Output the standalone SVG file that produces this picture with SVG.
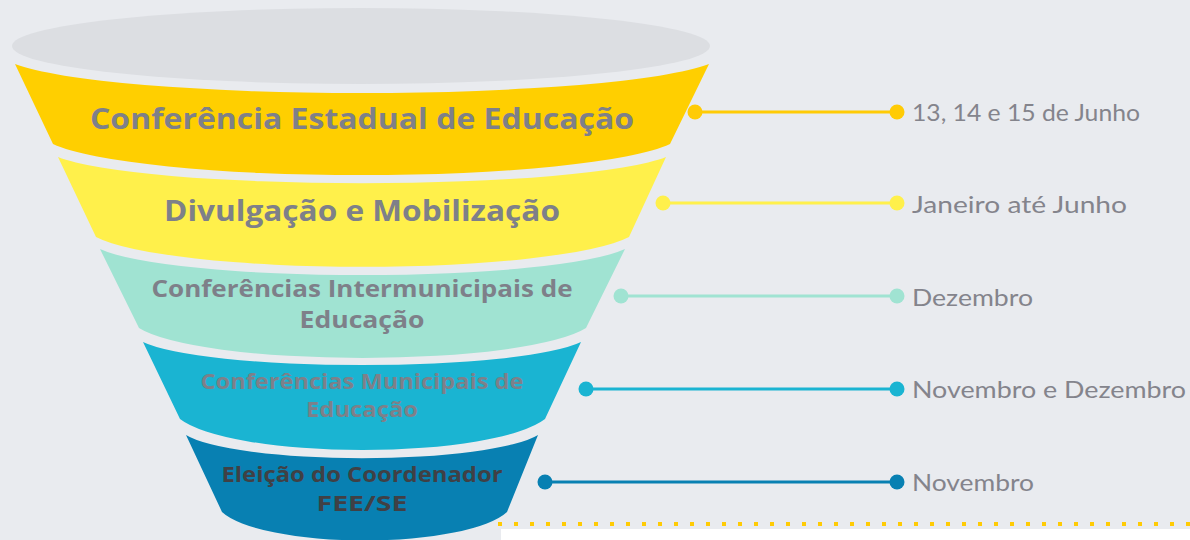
<svg xmlns="http://www.w3.org/2000/svg" width="1190" height="540" viewBox="0 0 1190 540">
  <style>
    .title { font-family: "Open Sans", "Liberation Sans", sans-serif; font-weight: 700; fill: #7E8089; text-anchor: middle; }
    .dark { fill: #404045; }
    .label { font-family: "Lato", "Liberation Sans", sans-serif; font-weight: 400; font-size: 23px; fill: #84848C; }
    .conn { stroke-width: 3; fill: none; }
  </style>
  <rect width="1190" height="540" fill="#E9EBEF"/>
  <ellipse cx="361" cy="46" rx="349" ry="38" fill="#DCDEE2"/>

  <g id="band1">
    <path d="M15 64 A361 40 0 0 0 709 64 L670 144 A321 43 0 0 1 53 144 Z" fill="#FFCF00"/>
    <text class="title" x="362" y="129" font-size="29" textLength="544" lengthAdjust="spacingAndGlyphs">Conferência Estadual de Educação</text>
  </g>
  <g id="band2">
    <path d="M58 157 A316 36 0 0 0 666 157 L629 237 A277 41 0 0 1 96 237 Z" fill="#FFF04B"/>
    <text class="title" x="362" y="221" font-size="29" textLength="396" lengthAdjust="spacingAndGlyphs">Divulgação e Mobilização</text>
  </g>
  <g id="band3">
    <path d="M100 249 A273 36 0 0 0 625 249 L586 328 A232 41 0 0 1 139 328 Z" fill="#A0E3D2"/>
    <text class="title" x="362" y="297" font-size="23" textLength="421" lengthAdjust="spacingAndGlyphs">Conferências Intermunicipais de</text>
    <text class="title" x="362" y="328" font-size="23" textLength="125" lengthAdjust="spacingAndGlyphs">Educação</text>
  </g>
  <g id="band4">
    <path d="M143 342 A228 32 0 0 0 581 342 L545 419 A190 43 0 0 1 180 419 Z" fill="#1AB4D2"/>
    <text class="title" x="362" y="389" font-size="21" textLength="323" lengthAdjust="spacingAndGlyphs">Conferências Municipais de</text>
    <text class="title" x="362" y="417" font-size="21" textLength="112" lengthAdjust="spacingAndGlyphs">Educação</text>
  </g>
  <g id="band5">
    <path d="M186 435 A183 32 0 0 0 538 435 L507 512 A148 39 0 0 1 222 512 Z" fill="#0880B2"/>
    <text class="title dark" x="362" y="482" font-size="21" textLength="281" lengthAdjust="spacingAndGlyphs">Eleição do Coordenador</text>
    <text class="title dark" x="362" y="511" font-size="21" textLength="91" lengthAdjust="spacingAndGlyphs">FEE/SE</text>
  </g>

  <g id="connectors">
    <line class="conn" x1="695" y1="112" x2="897" y2="112" stroke="#FFCB05"/>
    <circle cx="695" cy="112" r="7.5" fill="#FFCB05"/>
    <circle cx="897" cy="112" r="7.5" fill="#FFCB05"/>
    <line class="conn" x1="663" y1="203" x2="897" y2="203" stroke="#FFF04B"/>
    <circle cx="663" cy="203" r="7.5" fill="#FFF04B"/>
    <circle cx="897" cy="203" r="7.5" fill="#FFF04B"/>
    <line class="conn" x1="621" y1="296" x2="897" y2="296" stroke="#A0E3D2"/>
    <circle cx="621" cy="296" r="7.5" fill="#A0E3D2"/>
    <circle cx="897" cy="296" r="7.5" fill="#A0E3D2"/>
    <line class="conn" x1="586" y1="389" x2="897" y2="389" stroke="#1AB4D2"/>
    <circle cx="586" cy="389" r="7.5" fill="#1AB4D2"/>
    <circle cx="897" cy="389" r="7.5" fill="#1AB4D2"/>
    <line class="conn" x1="545" y1="482" x2="897" y2="482" stroke="#0880B2"/>
    <circle cx="545" cy="482" r="7.5" fill="#0880B2"/>
    <circle cx="897" cy="482" r="7.5" fill="#0880B2"/>
  </g>

  <g id="labels">
    <text class="label" x="912" y="121" textLength="228" lengthAdjust="spacingAndGlyphs">13, 14 e 15 de Junho</text>
    <text class="label" x="912" y="213" textLength="215" lengthAdjust="spacingAndGlyphs">Janeiro até Junho</text>
    <text class="label" x="912" y="306" textLength="121" lengthAdjust="spacingAndGlyphs">Dezembro</text>
    <text class="label" x="912" y="398" textLength="274" lengthAdjust="spacingAndGlyphs">Novembro e Dezembro</text>
    <text class="label" x="912" y="491" textLength="122" lengthAdjust="spacingAndGlyphs">Novembro</text>
  </g>

  <g id="footer">
    <rect x="501" y="529" width="689" height="11" fill="#FFFFFF"/>
    <line x1="498" y1="524" x2="1190" y2="524" stroke="#FFCB05" stroke-width="4" stroke-dasharray="4 12"/>
  </g>
</svg>
